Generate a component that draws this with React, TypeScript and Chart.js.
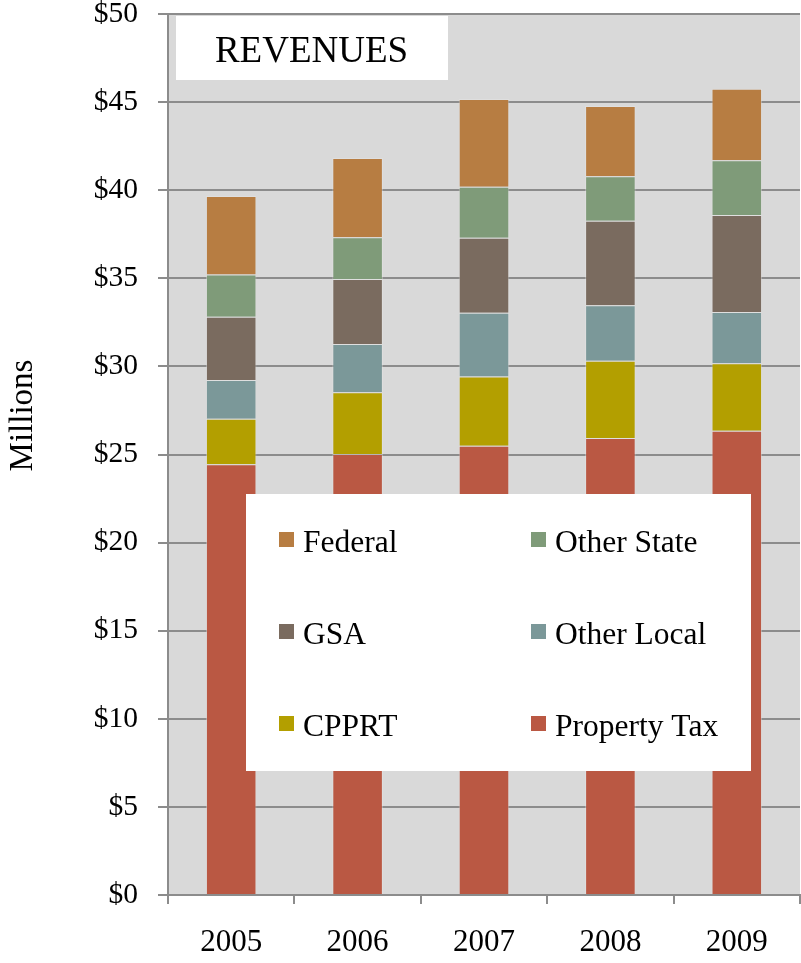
import React, { useEffect, useRef } from "react";
import { Chart, registerables } from "chart.js";

Chart.register(...registerables);

const years = ["2005", "2006", "2007", "2008", "2009"];
const propertyTax = [24.44, 25.03, 25.5, 25.94, 26.35];
const cpprt = [2.59, 3.5, 3.92, 4.38, 3.83];
const otherLocal = [2.2, 2.74, 3.63, 3.15, 2.91];
const gsa = [3.59, 3.69, 4.25, 4.8, 5.5];
const otherState = [2.4, 2.37, 2.9, 2.52, 3.11];
const federal = [4.45, 4.5, 4.98, 3.99, 4.06];

const seriesNames = ["Property Tax", "CPPRT", "Other Local", "GSA", "Other State", "Federal"];
const seriesColors = ["#BA5843", "#B39F00", "#7B9899", "#7A6B5F", "#7F9B79", "#B77D42"];
const legendOrder = ["Federal", "Other State", "GSA", "Other Local", "CPPRT", "Property Tax"];

const FONT = "'Times New Roman', 'Liberation Serif', serif";

const decorPlugin = {
  id: "decor",
  beforeDraw(chart: any) {
    const { ctx, chartArea } = chart;
    ctx.save();
    ctx.fillStyle = "#D9D9D9";
    ctx.fillRect(chartArea.left, chartArea.top, chartArea.right - chartArea.left, chartArea.bottom - chartArea.top);
    ctx.restore();
  },
  afterDraw(chart: any) {
    const { ctx } = chart;
    ctx.save();
    // Title box
    ctx.fillStyle = "#FFFFFF";
    ctx.fillRect(176, 16, 272, 64);
    ctx.fillStyle = "#000";
    ctx.font = `37px ${FONT}`;
    ctx.textAlign = "center";
    ctx.textBaseline = "alphabetic";
    ctx.fillText("REVENUES", 311.5, 61.5);

    // Legend box
    ctx.fillStyle = "#FFFFFF";
    ctx.fillRect(246, 494, 505, 277);
    ctx.font = `31.5px ${FONT}`;
    ctx.textAlign = "left";
    const cols = [279, 531];
    const rows = [539.5, 631.5, 723.5];
    legendOrder.forEach((name, i) => {
      const idx = seriesNames.indexOf(name);
      const cx = cols[i % 2];
      const cy = rows[Math.floor(i / 2)];
      ctx.fillStyle = chart.data.datasets[idx].backgroundColor;
      ctx.fillRect(cx, cy - 7.5, 15, 15);
      ctx.fillStyle = "#000";
      ctx.fillText(name, cx + 24, cy + 12);
    });

    // Y axis title
    ctx.translate(32, 415.5);
    ctx.rotate(-Math.PI / 2);
    ctx.textAlign = "center";
    ctx.font = `33px ${FONT}`;
    ctx.fillText("Millions", 0, 0);
    ctx.restore();
  },
};

export default function App() {
  const canvasRef = useRef<HTMLCanvasElement | null>(null);

  useEffect(() => {
    if (!canvasRef.current) return;
    const dataArrays = [propertyTax, cpprt, otherLocal, gsa, otherState, federal];
    const chart = new Chart(canvasRef.current, {
      type: "bar",
      data: {
        labels: years,
        datasets: dataArrays.map((d, i) => ({
          label: seriesNames[i],
          data: d,
          backgroundColor: seriesColors[i],
          borderColor: "rgba(230,230,230,0.45)",
          borderWidth: 1,
          categoryPercentage: 1,
          barPercentage: 0.4,
        })),
      },
      options: {
        responsive: false,
        animation: false,
        layout: { padding: { top: 14, right: 1, left: 0, bottom: 0 } },
        plugins: {
          legend: { display: false },
          title: { display: false },
          tooltip: { enabled: false },
        },
        scales: {
          x: {
            stacked: true,
            grid: {
              display: true,
              drawOnChartArea: false,
              drawTicks: true,
              tickLength: 9,
              color: "#8C8C8C",
              lineWidth: 2,
              offset: true,
            },
            border: { display: true, color: "#8C8C8C", width: 2 },
            ticks: {
              color: "#000",
              font: { family: FONT, size: 31 },
              padding: 20,
              maxRotation: 0,
            },
            afterFit(scale: any) {
              scale.height = 68;
              scale.paddingLeft = 0;
              scale.paddingRight = 0;
            },
          },
          y: {
            stacked: true,
            min: 0,
            max: 50,
            grid: {
              color: "#8C8C8C",
              lineWidth: 2,
              drawTicks: true,
              tickLength: 10,
            },
            border: { display: true, color: "#8C8C8C", width: 2 },
            ticks: {
              stepSize: 5,
              color: "#000",
              font: { family: FONT, size: 29.5 },
              padding: 20,
              callback: (v: any) => "$" + v,
            },
            afterFit(scale: any) {
              scale.width = 168;
              scale.paddingTop = 0;
              scale.paddingBottom = 0;
            },
          },
        },
      },
      plugins: [decorPlugin],
    });
    return () => chart.destroy();
  }, []);

  return (
    <div style={{ position: "absolute", left: 0, top: 0, width: 801, height: 963, background: "#fff" }}>
      <canvas ref={canvasRef} width={801} height={963} style={{ display: "block" }} />
    </div>
  );
}
